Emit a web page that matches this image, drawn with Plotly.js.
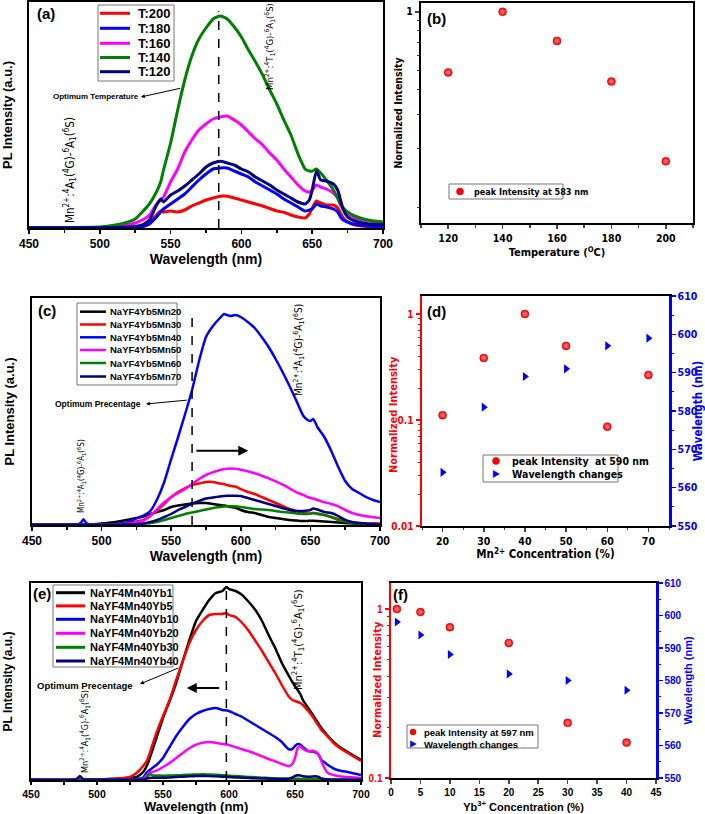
<!DOCTYPE html>
<html><head><meta charset="utf-8">
<script src="https://cdn.plot.ly/plotly-3.0.1.min.js"></script>
<style>html,body{margin:0;padding:0;background:#fff}#chart{width:705px;height:814px}</style>
</head><body><div id="chart"></div>
<script>
// ---------------- DATA ----------------
// Panel (a): temperature series
const gridA = [450,500,510,520,525,530,535,540,543,545,550,555,560,565,570,575,580,585,590,595,600,605,610,615,620,625,630,635,640,645,648,650,653,656,660,665,668,670,672,675,680,690,700];
const t200 = [0.2,0.2,0.3,0.5,0.7,1,5,13,17,16,17,16,18,22,25,28,30,31.7,31.7,30,28,26,24,22,19.5,17,15.7,13,11,10,14,20,27,25,23,23,20,15,10,6,3,1.5,1];
const t180 = [0.2,0.2,0.3,0.5,1,1.5,4,11,16,19,24,29,34,41,48,54,59,60,60,57,54,51,46,42,38,34,29,25,21,17,18,19,24,22,21,19,16,11,8,6,3.7,2,1];
const t160 = [0.3,0.5,1,3,5,8,12.7,23.7,28,31,46,59,76,88,98,104,109,111,112,108,103,96,89,83,75,68,59,51,43,37,36,38,43,41,39,35,30,23,19,14,10,7,5];
const t140 = [0.5,1,2.7,6,9,16,24,36,46,58,85,118,148,172,189,200,209,212,209,201,191,178,166,153,138,124,108,93,74,59,57,57,59,55,48,38,30,24,20,16,12,7.7,6];
const t120 = [0.3,0.3,0.5,1,1.5,3,8,22.7,29,26,33,37,42,48,54,61,65,66.7,65,63,59,56,51,47,43,38,34,30,26,24,28,38,57,48,47,44,38,28,18,11,7,4,3.3];
const namesA = ['T:200','T:180','T:160','T:140','T:120'];
const colorsA = ['#ff0000','#0000ff','#ff00ff','#008000','#000080'];

// Panel (b)
const tempB = [120,140,160,180,200];
const intB = [0.49,1.0,0.71,0.44,0.172];

// Panel (c): Mn concentration series
const gridC = [450,480,483,485,487,489,491,500,510,520,525,530,535,540,545,550,555,560,565,570,575,580,585,588,590,593,596,600,605,610,615,620,625,630,635,640,645,648,650,652,655,660,665,670,675,680,685,690,695,700];
const mn20 = [0.3,0.3,0.3,0.3,0.3,0.3,0.3,1.5,3,5.5,7,8.5,11,13,15,18,19.5,20.5,21.5,22,22,21,20,19.5,19,18,17.5,15,13,12,10,8,7,6,5,4.5,4,4,4.3,4.3,4,3.5,3,2.5,2,1.5,1.2,1,1,1];
const mn30 = [0.2,0.2,0.2,0.2,0.2,0.2,0.2,0.3,0.5,2,3.5,5,9,15,21,28,33,37,40,41.5,43,43,41.5,41,40,39,38.5,36,33,31,28,25,22,19,16,14,12,11.5,11.5,12,11,10,8,6,4,2.5,2,1.5,1.2,1];
const mn40 = [0.3,0.5,0.7,2,5.7,2,0.7,0.5,1,3.3,6.7,9.3,14,26,43,66,88,111,135,164,188,199,207,211,210,209,210,208,203,197,188,178,166,153,139,124,109,105,104,106,98,88,74,58,44,36,32,28,25,23];
const mn50 = [0.2,0.2,0.2,0.2,0.2,0.2,0.2,0.3,0.5,1.5,2.5,4.3,9.3,16,22.7,27.7,32,36,41,46,50,52.7,55,56,56.3,56.5,56.3,55.3,53.7,51.7,49.3,46.7,43.7,40.3,36.7,32.7,30,28,27,26.5,25,22.7,21,18.7,15,12,10,8.7,7.7,7];
const mn60 = [0.2,0.2,0.2,0.2,0.2,0.2,0.2,0.2,0.2,0.3,0.5,1,2,3,5,7,9,11,12.5,14,15.5,17,18,18.5,18.7,18.7,18.7,18,17,16,15.5,15,14,13,12.5,11.5,11,11,11.5,12,11.5,10,8,5,3.5,2,1.5,1,0.7,0.5];
const mn70 = [0.3,0.3,0.3,0.3,0.3,0.3,0.3,0.3,0.3,0.5,1,1.5,3,5,8,11,15,18,21.5,24,26.5,27.5,28.5,29,29.3,29.3,29.3,29,27,25,23,21,19,17,15,14,14,14.5,15,16.5,15.5,13,12,9,5,3,2,1.5,1.2,1];
const namesC = ['NaYF4Yb5Mn20','NaYF4Yb5Mn30','NaYF4Yb5Mn40','NaYF4Yb5Mn50','NaYF4Yb5Mn60','NaYF4Yb5Mn70'];
const colorsC = ['#000000','#ff0000','#0000ff','#ff00ff','#008000','#000080'];

// Panel (d)
const mnD = [20,30,40,50,60,70];
const intD = [0.111,0.385,1.0,0.50,0.0865,0.266];
const wlD = [564,581,589,591,597,599];

// Panel (e): Yb concentration series
const gridE = [450,483,485,487,489,491,500,510,520,525,530,535,538,540,542,545,550,555,560,565,570,575,580,585,590,595,598,600,605,610,615,620,625,630,635,640,645,648,650,652,654,656,660,663,665,668,670,673,675,680,685,690,695,700];
const yb1 = [0.3,0.3,0.3,0.3,0.3,0.3,0.5,1,1.5,2,3,8,15,22,30,42,62,79,97,119,140,159,170,180,187,189,193,191,189,185,178,170,159,145,132,117,105,98,94,90,86,80,72,66,62,56,52,47,44,37,32,28,24,20];
const yb5 = [0.3,0.3,0.3,0.3,0.3,0.3,0.5,1,2,3,7,14,20,27,35,47,64,80,100,119,137,150,159,165,166,166,167,165,163,157,149,139,129,118,107,95,84,80,79,78,77,75,69,64,60,54,50,46,43,36,31,27,23,19];
const yb10 = [0.3,0.3,0.3,0.3,0.3,0.3,0.3,0.3,0.5,0.7,1,2.5,8,10,12,15,22,33,44,53,61,66,69,71,72,70,69.5,69,66,63,59,55,51,47,43,38,31,31,34,36,35.5,33,29,28.5,28,25,20,17,15,11,9,8,6.5,5];
const yb20 = [0.2,0.2,0.2,0.2,0.2,0.2,0.2,0.2,0.3,0.3,0.5,1,5,7,8,9.3,13,17,22,27,31.7,35.3,37.3,38,37.3,36,35.5,35,32.7,30.7,28.7,26.3,23.7,21,18.7,16,13.7,16,22,32,33.7,31.3,28.7,29.3,28.7,25.3,18.7,10.3,7,4.7,3.5,3,2.5,2];
const yb30 = [0.2,0.2,0.2,0.2,0.2,0.2,0.2,0.2,0.2,0.2,0.2,0.5,3,6,4.5,4.5,4.3,4.5,4.7,5,5.3,5.5,5.7,5.5,5.3,4.8,4.5,4.3,3.9,3.5,3.1,2.7,2.3,2,1.7,1.5,1.3,1.2,1.2,1.2,1.1,1.1,1,1,0.9,0.8,0.8,0.7,0.6,0.5,0.4,0.4,0.3,0.3];
const yb40 = [0.2,0.3,1.5,4,1.5,0.3,0.2,0.2,0.2,0.2,0.2,0.3,1.5,2,2.2,2.3,2.3,2.6,3,3.3,3.7,3.9,4,3.9,3.7,3.3,3.1,3,2.6,2.3,2,1.7,1.5,1.3,1.1,1,1.3,2.5,4,4.7,4.5,3.7,3.3,3.5,3.7,3,1.5,0.7,0.5,0.3,0.2,0.2,0.2,0.2];
const namesE = ['NaYF4Mn40Yb1','NaYF4Mn40Yb5','NaYF4Mn40Yb10','NaYF4Mn40Yb20','NaYF4Mn40Yb30','NaYF4Mn40Yb40'];
const colorsE = ['#000000','#ff0000','#0000ff','#ff00ff','#008000','#000080'];

// Panel (f)
const ybF = [1,5,10,20,30,40];
const intF = [1.0,0.96,0.78,0.63,0.212,0.162];
const wlF = [598,594,588,582,580,577];

// optimum (dashed) wavelengths
const optA = 584, optC = 565, optE = 598;

// ---------------- HELPERS ----------------
const W = 705, H = 814;
const FONT = 'Liberation Sans, Arial, sans-serif';
const NARROW = 'Liberation Sans Narrow, DejaVu Sans Condensed, Liberation Sans, Arial, sans-serif';
const px = v => v / W, py = v => 1 - v / H;
const dom = (a, b) => [a / W, b / W];
const domY = (t, b) => [1 - b / H, 1 - t / H];
const bf = (size, color, fam) => ({family: fam || FONT, size: size, color: color || 'black', weight: 700});
const rf = (size, color, fam) => ({family: fam || FONT, size: size, color: color || 'black'});

const traces = [], shapes = [], annotations = [];

function addSpectra(grid, series, colors, names, xa, ya, w) {
  series.forEach((s, i) => traces.push({
    type: 'scatter', mode: 'lines', x: grid, y: s, name: names[i], xaxis: xa, yaxis: ya,
    line: {color: colors[i], width: w, shape: 'spline', smoothing: 0.5}, showlegend: false, hoverinfo: 'skip'
  }));
}
const sphereMarker = {color: '#ff0000', size: 8, gradient: {type: 'radial', color: '#ff8a8a'}, line: {width: 0.5, color: '#b00000'}};
const triMarker = {color: '#0000ff', size: 8, symbol: 'triangle-right', line: {width: 0}};

function specX(d, anchor, fs, ts, standoff, tl) {
  return {domain: d, anchor: anchor, range: [450, 700], tick0: 450, dtick: 50, ticks: 'outside', ticklen: tl || 4, tickwidth: 1.5, tickcolor: 'black',
    minor: {dtick: 25, tick0: 450, ticks: 'outside', ticklen: 3, tickwidth: 1.5, tickcolor: 'black'},
    showline: true, linewidth: 2, linecolor: 'black', mirror: true, showgrid: false, zeroline: false,
    tickfont: bf(fs), title: ts ? {text: 'Wavelength (nm)', font: bf(ts), standoff: standoff} : {text: ''}};
}
function specY(d, anchor, top, ts, standoff) {
  return {domain: d, anchor: anchor, range: [0, top], showticklabels: false, ticks: '', showline: true, linewidth: 2,
    linecolor: 'black', mirror: true, showgrid: false, zeroline: false,
    title: {text: 'PL Intensity (a.u.)', font: bf(ts), standoff: standoff}};
}
function lineLegend(box, rows, lx0, lx1, tx, names, colors, fs, lw) {
  shapes.push({type: 'rect', xref: 'paper', yref: 'paper', x0: px(box[0]), x1: px(box[2]), y0: py(box[3]), y1: py(box[1]),
    line: {color: '#777', width: 1}, fillcolor: 'white', layer: 'above'});
  names.forEach((n, i) => {
    shapes.push({type: 'line', xref: 'paper', yref: 'paper', x0: px(lx0), x1: px(lx1), y0: py(rows[i]), y1: py(rows[i]),
      line: {color: colors[i], width: lw}});
    annotations.push({xref: 'paper', yref: 'paper', x: px(tx), y: py(rows[i]), xanchor: 'left', yanchor: 'middle',
      text: n, showarrow: false, font: bf(fs)});
  });
}
function boxOnly(box) {
  shapes.push({type: 'rect', xref: 'paper', yref: 'paper', x0: px(box[0]), x1: px(box[2]), y0: py(box[3]), y1: py(box[1]),
    line: {color: '#777', width: 1}, fillcolor: 'white', layer: 'above'});
}
function sphere(cx, cy, r) {
  shapes.push({type: 'circle', xref: 'paper', yref: 'paper', xsizemode: 'pixel', ysizemode: 'pixel', xanchor: px(cx), yanchor: py(cy),
    x0: -r, x1: r, y0: -r, y1: r, fillcolor: '#ff0000', line: {color: '#b00000', width: 0.5}});
}
function tri(cx, cy, s) {
  shapes.push({type: 'path', xref: 'paper', yref: 'paper', xsizemode: 'pixel', ysizemode: 'pixel', xanchor: px(cx), yanchor: py(cy),
    path: 'M' + (-s * 0.8) + ',' + (-s) + ' L' + s + ',0 L' + (-s * 0.8) + ',' + s + ' Z', fillcolor: '#0000ff', line: {color: '#0000ff', width: 0.5}});
}
function text(x, y, t, font, opts) {
  annotations.push(Object.assign({xref: 'paper', yref: 'paper', x: px(x), y: py(y), text: t, showarrow: false, font: font,
    xanchor: 'center', yanchor: 'middle'}, opts || {}));
}
function arrow(xr, yr, hx, hy, tx, ty, w, size) {
  annotations.push({xref: xr, yref: yr, x: hx, y: hy, axref: xr, ayref: yr, ax: tx, ay: ty, text: '', showarrow: true,
    arrowhead: 2, arrowsize: size, arrowwidth: w, arrowcolor: 'black', standoff: 0, startstandoff: 0});
}
function dashed(xr, yr, x, top) {
  shapes.push({type: 'line', xref: xr, yref: yr, x0: x, x1: x, y0: 0, y1: top, line: {color: 'black', width: 1.5, dash: 'dash'}});
}
const labT = 'Mn<sup>2+</sup>:<sup>4</sup>T<sub>1</sub>(<sup>4</sup>G)-<sup>6</sup>A<sub>1</sub>(<sup>6</sup>S)';
const labA = 'Mn<sup>2+</sup>:<sup>4</sup>A<sub>1</sub>(<sup>4</sup>G)-<sup>6</sup>A<sub>1</sub>(<sup>6</sup>S)';

// ---------------- TRACES ----------------
addSpectra(gridA, [t200, t180, t160, t140, t120], colorsA, namesA, 'x', 'y', 3);
traces.push({type: 'scatter', mode: 'markers', x: tempB, y: intB, name: 'peak Intensity at 583 nm', xaxis: 'x2', yaxis: 'y2', marker: sphereMarker, showlegend: false});
addSpectra(gridC, [mn20, mn30, mn40, mn50, mn60, mn70], colorsC, namesC, 'x3', 'y3', 2.5);
traces.push({type: 'scatter', mode: 'markers', x: mnD, y: intD, name: 'peak Intensity  at 590 nm', xaxis: 'x4', yaxis: 'y4', marker: sphereMarker, showlegend: false});
traces.push({type: 'scatter', mode: 'markers', x: mnD, y: wlD, name: 'Wavelength changes', xaxis: 'x4', yaxis: 'y5', marker: triMarker, showlegend: false});
addSpectra(gridE, [yb1, yb5, yb10, yb20, yb30, yb40], colorsE, namesE, 'x5', 'y6', 2.5);
traces.push({type: 'scatter', mode: 'markers', x: ybF, y: intF, name: 'peak Intensity at 597 nm', xaxis: 'x6', yaxis: 'y7', marker: sphereMarker, showlegend: false});
traces.push({type: 'scatter', mode: 'markers', x: ybF, y: wlF, name: 'Wavelength changes', xaxis: 'x6', yaxis: 'y8', marker: triMarker, showlegend: false});

// ---------------- DECORATION ----------------
// (a)
dashed('x', 'y', optA, 217);
lineLegend([98, 5, 174, 81], [13.3, 28.3, 43.3, 57.5, 71.7], 100, 130, 136, namesA, colorsA, 13, 3);
text(46, 14, '(a)', bf(15));
text(96, 96.5, 'Optimum Temperature', bf(8));
arrow('x', 'y', 529, 131, 557.8, 140, 1, 0.8);
text(270, 47, labT, rf(9.5, 'black', NARROW), {textangle: -90});
text(70, 170, labA, rf(11.5, 'black', NARROW), {textangle: -90});
// (b)
text(436, 18, '(b)', bf(15));
boxOnly([449, 184, 563, 199]);
sphere(460, 191.5, 3.5);
text(472, 191.5, 'peak Intensity at 583 nm', bf(9, 'black', NARROW), {xanchor: 'left'});
// (c)
dashed('x3', 'y3', optC, 209);
lineLegend([77, 303, 177, 385], [311.7, 324.5, 337.3, 350, 363, 376.5], 80, 106, 108, namesC, colorsC, 9.5, 2.5);
text(47, 310, '(c)', bf(15));
text(98, 404, 'Optimum Precentage', bf(8.5));
arrow('x3', 'y3', 531.9, 121, 562.3, 125, 1, 0.8);
arrow('x3', 'y3', 605.4, 74.3, 567, 74.3, 2, 1);
text(299, 350, labA, rf(10, 'black', NARROW), {textangle: -90});
text(82, 476, labA, rf(8, 'black', NARROW), {textangle: -90});
// (d)
text(436, 311, '(d)', bf(15));
boxOnly([483, 455, 618, 482]);
sphere(496, 461, 3.5);
tri(496, 474, 3.5);
text(510, 461, 'peak Intensity  at 590 nm', bf(10.5, 'black', NARROW), {xanchor: 'left'});
text(510, 474, 'Wavelength changes', bf(10.5, 'black', NARROW), {xanchor: 'left'});
text(393, 415, 'Normalized Intensity', bf(11, '#ff0000', NARROW), {textangle: -90});
// (e)
dashed('x5', 'y6', optE, 194);
lineLegend([53, 585, 173, 667], [592.7, 605.9, 619.3, 633.3, 647.3, 661], 56, 85, 88, namesE, colorsE, 11, 3);
text(42, 593, '(e)', bf(15));
text(84.5, 685.5, 'Optimum Precentage', bf(9.5));
arrow('x5', 'y6', 532.6, 96, 562.9, 112.7, 1, 0.8);
arrow('x5', 'y6', 568, 92, 593.7, 92, 2, 1);
text(298, 640, labT, rf(11, 'black', NARROW), {textangle: -90});
text(84, 732, labA, rf(9, 'black', NARROW), {textangle: -90});
text(196, 806.5, 'Wavelength (nm)', bf(13));
// (f)
text(400, 594, '(f)', bf(15));
boxOnly([407, 725, 538, 748]);
sphere(413, 732, 3);
tri(413, 744, 3.2);
text(422, 732, 'peak Intensity at 597 nm', bf(9.5), {xanchor: 'left'});
text(422, 744, 'Wavelength changes', bf(9.5), {xanchor: 'left'});
text(377, 680, 'Normalized Intensity', bf(11, '#ff0000', NARROW), {textangle: -90});

const minorLog1 = [0.1, 0.2, 0.3, 0.4, 0.5, 0.6, 0.7, 0.8, 0.9];
const minorLog2 = [0.02, 0.03, 0.04, 0.05, 0.06, 0.07, 0.08, 0.09, 0.2, 0.3, 0.4, 0.5, 0.6, 0.7, 0.8, 0.9];

const layout = {
  width: W, height: H, margin: {l: 0, r: 0, t: 0, b: 0}, paper_bgcolor: 'white', plot_bgcolor: 'white', showlegend: false,
  font: {family: FONT, color: 'black'},
  // (a)
  xaxis: specX(dom(29, 383), 'y', 12, 14, 2),
  yaxis: specY(domY(2, 228), 'x', 226, 13, 12),
  // (b)
  xaxis2: {domain: dom(421, 693), anchor: 'y2', range: [110, 210], tick0: 0, dtick: 20, ticks: 'outside', ticklen: 4, tickwidth: 1.5,
    minor: {dtick: 10, tick0: 0, ticks: 'outside', ticklen: 3, tickwidth: 1.5}, showline: true, linewidth: 2, linecolor: 'black', mirror: true,
    showgrid: false, zeroline: false, tickfont: bf(10.5, 'black', NARROW),
    title: {text: 'Temperature (<sup>O</sup>C)', font: bf(11, 'black', NARROW), standoff: 6}},
  yaxis2: {domain: domY(3, 223), anchor: 'x2', type: 'log', range: [-1.08, 0.045], tickmode: 'array', tickvals: [1], ticktext: ['1'],
    ticks: 'outside', ticklen: 4, tickwidth: 1.5, minor: {tickmode: 'array', tickvals: minorLog1, ticks: 'outside', ticklen: 2, tickwidth: 1},
    showline: true, linewidth: 2, linecolor: 'black', mirror: true, showgrid: false, zeroline: false, tickfont: bf(10.5, 'black', NARROW),
    title: {text: 'Normalized Intensity', font: bf(10.5, 'black', NARROW), standoff: 2}},
  // (c)
  xaxis3: specX(dom(32, 380), 'y3', 12, 14, 4),
  yaxis3: specY(domY(298, 525), 'x3', 227, 13, 12),
  // (d)
  xaxis4: {domain: dom(422, 669), anchor: 'y4', range: [15, 75], tick0: 0, dtick: 10, ticks: 'outside', ticklen: 4, tickwidth: 1.5,
    minor: {dtick: 5, tick0: 0, ticks: 'outside', ticklen: 2, tickwidth: 1}, showline: true, linewidth: 2, linecolor: 'black', mirror: true,
    showgrid: false, zeroline: false, tickfont: bf(10.5, 'black', NARROW),
    title: {text: 'Mn<sup>2+</sup> Concentration (%)', font: bf(11.5, 'black', NARROW), standoff: 4}},
  yaxis4: {domain: domY(296, 526), anchor: 'x4', type: 'log', range: [-2, 0.17], tickmode: 'array', tickvals: [0.01, 0.1, 1], ticktext: ['0.01', '0.1', '1'],
    ticks: 'outside', ticklen: 4, tickwidth: 1.5, tickcolor: '#ff0000',
    minor: {tickmode: 'array', tickvals: minorLog2, ticks: 'outside', ticklen: 2, tickwidth: 1, tickcolor: '#ff0000'},
    showline: true, linewidth: 2.5, linecolor: '#ff0000', mirror: false, showgrid: false, zeroline: false, tickfont: bf(10, '#ff0000', NARROW)},
  yaxis5: {overlaying: 'y4', side: 'right', anchor: 'x4', range: [550, 610], tick0: 550, dtick: 10, ticks: 'outside', ticklen: 4, tickwidth: 1.5,
    tickcolor: '#0000ff', minor: {dtick: 5, tick0: 550, ticks: 'outside', ticklen: 2, tickwidth: 1, tickcolor: '#0000ff'},
    showline: true, linewidth: 2.5, linecolor: '#0000ff', showgrid: false, zeroline: false, tickfont: bf(10.5, '#0000ff', NARROW),
    title: {text: 'Wavelength (nm)', font: bf(11.5, '#0000ff', NARROW), standoff: 4}},
  // (e)
  xaxis5: specX(dom(31, 361), 'y6', 10.5, 0, 0, 3),
  yaxis6: specY(domY(583, 780), 'x5', 197, 12, 14),
  // (f)
  xaxis6: {domain: dom(391, 656), anchor: 'y7', range: [0, 45], tick0: 0, dtick: 5, ticks: 'outside', ticklen: 4, tickwidth: 1.5,
    showline: true, linewidth: 2, linecolor: 'black', mirror: true, showgrid: false, zeroline: false, tickfont: bf(10),
    title: {text: 'Yb<sup>3+</sup> Concentration (%)', font: bf(11), standoff: 6}},
  yaxis7: {domain: domY(583, 778), anchor: 'x6', type: 'log', range: [-1, 0.154], tickmode: 'array', tickvals: [0.1, 1], ticktext: ['0.1', '1'],
    ticks: 'outside', ticklen: 4, tickwidth: 1.5, tickcolor: '#ff0000',
    minor: {tickmode: 'array', tickvals: minorLog1, ticks: 'outside', ticklen: 2, tickwidth: 1, tickcolor: '#ff0000'},
    showline: true, linewidth: 2.5, linecolor: '#ff0000', mirror: false, showgrid: false, zeroline: false, tickfont: bf(10, '#ff0000')},
  yaxis8: {overlaying: 'y7', side: 'right', anchor: 'x6', range: [550, 610], tick0: 550, dtick: 10, ticks: 'outside', ticklen: 4, tickwidth: 1.5,
    tickcolor: '#0000ff', minor: {dtick: 5, tick0: 550, ticks: 'outside', ticklen: 2, tickwidth: 1, tickcolor: '#0000ff'},
    showline: true, linewidth: 2.5, linecolor: '#0000ff', showgrid: false, zeroline: false, tickfont: bf(10, '#0000ff'),
    title: {text: 'Wavelength (nm)', font: bf(11, '#0000ff'), standoff: 4}},
  shapes: shapes,
  annotations: annotations
};

Plotly.newPlot('chart', traces, layout, {displayModeBar: false, staticPlot: true});
</script></body></html>
